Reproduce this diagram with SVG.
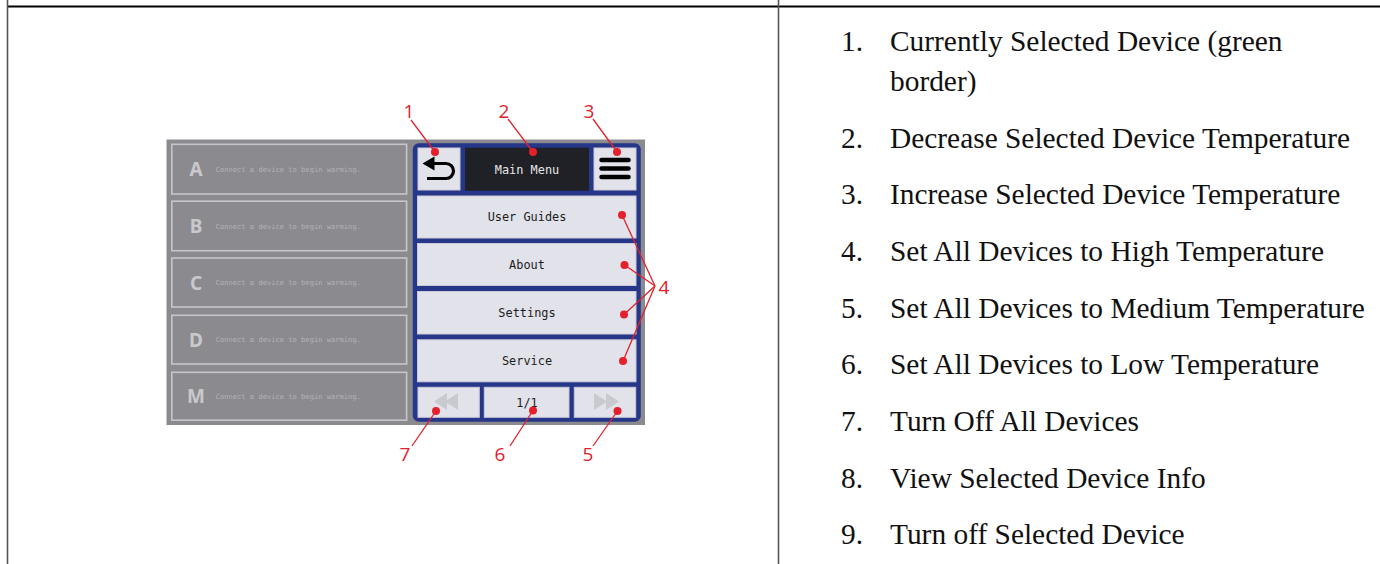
<svg xmlns="http://www.w3.org/2000/svg" width="1380" height="564" viewBox="0 0 1380 564">
<style>
.rule{stroke:#000;stroke-width:2.2}
.vrule{stroke:#555;stroke-width:1.6}
.dev{fill:none;stroke:#c6c6ca;stroke-width:1.6}
.letter{font-family:"Noto Sans","Liberation Sans",sans-serif;font-weight:bold;font-size:19px;fill:#c9c9cc;text-anchor:middle}
.hint{font-family:"DejaVu Sans Mono","Liberation Mono",monospace;font-size:7.1px;fill:#b4b4b8}
.btn{fill:#e1e2ea;stroke:#c9cad6;stroke-width:1}
.mono{font-family:"DejaVu Sans Mono","Liberation Mono",monospace;font-size:11.9px;fill:#1c1c1c;text-anchor:middle}
.lead{stroke:#e3202b;stroke-width:1.3;fill:none}
.dot{fill:#e3202b}
.num{font-family:"Open Sans","Noto Sans",sans-serif;font-size:19px;fill:#e3202b;text-anchor:middle}
.item{font-family:"Liberation Serif","Times New Roman",serif;font-size:29.4px;fill:#111}
.arrowbtn{fill:#c9cad0}
</style>

<g id="table">
  <line class="rule" x1="7" y1="6.5" x2="1380" y2="6.5"/>
  <line class="vrule" x1="7.5" y1="0" x2="7.5" y2="564"/>
  <line class="vrule" x1="778.5" y1="0" x2="778.5" y2="564"/>
</g>

<g id="device-panel">
  <rect x="166.5" y="139.5" width="478.5" height="285.5" fill="#8b8a8f"/>
  <g id="device-A">
    <rect class="dev" x="171.8" y="144.3" width="234.8" height="49.7"/>
    <text class="letter" x="196" y="176">A</text>
    <text class="hint" x="215.7" y="171.8">Connect a device to begin warming.</text>
  </g>
  <g id="device-B">
    <rect class="dev" x="171.8" y="201.2" width="234.8" height="49.5"/>
    <text class="letter" x="196" y="233">B</text>
    <text class="hint" x="215.7" y="228.6">Connect a device to begin warming.</text>
  </g>
  <g id="device-C">
    <rect class="dev" x="171.8" y="258" width="234.8" height="49"/>
    <text class="letter" x="196" y="289.5">C</text>
    <text class="hint" x="215.7" y="285.3">Connect a device to begin warming.</text>
  </g>
  <g id="device-D">
    <rect class="dev" x="171.8" y="315.3" width="234.8" height="48.7"/>
    <text class="letter" x="196" y="346.5">D</text>
    <text class="hint" x="215.7" y="342.3">Connect a device to begin warming.</text>
  </g>
  <g id="device-M">
    <rect class="dev" x="171.8" y="372.3" width="234.8" height="47.9"/>
    <text class="letter" x="196" y="403">M</text>
    <text class="hint" x="215.7" y="398.8">Connect a device to begin warming.</text>
  </g>
</g>

<g id="menu-panel">
  <rect x="412.8" y="143.3" width="228" height="278.5" rx="6" fill="#26378a"/>
  <g id="back-button">
    <rect class="btn" x="418" y="148" width="42" height="42"/>
    <path d="M431,163.5 H446 A7.5,7.5 0 0 1 446,178.5 H427" fill="none" stroke="#000" stroke-width="3.2"/>
    <polygon points="422.5,163.5 434.5,156.5 434.5,170.5" fill="#000"/>
  </g>
  <g id="title">
    <rect x="465" y="147.7" width="124" height="43" fill="#1f2127"/>
    <text class="mono" x="527" y="173.5" style="fill:#e6e6e6">Main Menu</text>
  </g>
  <g id="menu-button">
    <rect class="btn" x="594" y="148" width="42" height="42"/>
    <g stroke="#000" stroke-width="4.5" stroke-linecap="round">
      <line x1="601.5" y1="160" x2="628.5" y2="160"/>
      <line x1="601.5" y1="168.5" x2="628.5" y2="168.5"/>
      <line x1="601.5" y1="177" x2="628.5" y2="177"/>
    </g>
  </g>
  <g id="user-guides">
    <rect class="btn" x="417.5" y="196" width="218.5" height="42"/>
    <text class="mono" x="527" y="221.2">User Guides</text>
  </g>
  <g id="about">
    <rect class="btn" x="417.5" y="243.5" width="218.5" height="42"/>
    <text class="mono" x="527" y="268.8">About</text>
  </g>
  <g id="settings">
    <rect class="btn" x="417.5" y="291.5" width="218.5" height="42.5"/>
    <text class="mono" x="527" y="316.8">Settings</text>
  </g>
  <g id="service">
    <rect class="btn" x="417.5" y="339.8" width="218.5" height="42"/>
    <text class="mono" x="527" y="364.8">Service</text>
  </g>
  <g id="prev-page">
    <rect class="btn" x="418" y="387.3" width="61.3" height="30"/>
    <polygon class="arrowbtn" points="434,401.5 447,393 447,410"/>
    <polygon class="arrowbtn" points="445,401.5 458,393 458,410"/>
  </g>
  <g id="page-indicator">
    <rect class="btn" x="484.3" y="387.3" width="84.7" height="30"/>
    <text class="mono" x="527" y="406.5">1/1</text>
  </g>
  <g id="next-page">
    <rect class="btn" x="574.3" y="387.3" width="61.4" height="30"/>
    <polygon class="arrowbtn" points="607,401.5 594,393 594,410"/>
    <polygon class="arrowbtn" points="619,401.5 606,393 606,410"/>
  </g>
</g>

<g id="connectors">
  <line class="lead" x1="411" y1="120" x2="435" y2="152"/>
  <line class="lead" x1="508" y1="119" x2="533" y2="152"/>
  <line class="lead" x1="593" y1="119" x2="617" y2="152"/>
  <line class="lead" x1="622" y1="215" x2="655" y2="286"/>
  <line class="lead" x1="624.5" y1="265" x2="655" y2="286"/>
  <line class="lead" x1="624" y1="314.5" x2="655" y2="286"/>
  <line class="lead" x1="623" y1="361" x2="655" y2="286"/>
  <line class="lead" x1="436" y1="411" x2="412" y2="446"/>
  <line class="lead" x1="533" y1="410.5" x2="510" y2="446"/>
  <line class="lead" x1="617.5" y1="411" x2="593" y2="446"/>
  <circle class="dot" cx="435" cy="152" r="4"/>
  <circle class="dot" cx="533" cy="152" r="4"/>
  <circle class="dot" cx="617" cy="152" r="4"/>
  <circle class="dot" cx="622" cy="215" r="4"/>
  <circle class="dot" cx="624.5" cy="265" r="4"/>
  <circle class="dot" cx="624" cy="314.5" r="4"/>
  <circle class="dot" cx="623" cy="361" r="4"/>
  <circle class="dot" cx="436" cy="411" r="4"/>
  <circle class="dot" cx="533" cy="410.5" r="4"/>
  <circle class="dot" cx="617.5" cy="411" r="4"/>
</g>

<g id="callout-labels">
  <text class="num" x="409" y="118">1</text>
  <text class="num" x="504" y="118">2</text>
  <text class="num" x="589" y="118">3</text>
  <text class="num" x="664" y="294">4</text>
  <text class="num" x="588" y="461">5</text>
  <text class="num" x="500" y="461">6</text>
  <text class="num" x="405" y="461">7</text>
</g>

<g id="legend">
  <text class="item" x="841" y="51">1.</text>
  <text class="item" x="890" y="51">Currently Selected Device (green</text>
  <text class="item" x="890" y="91">border)</text>
  <text class="item" x="841" y="147.5">2.</text>
  <text class="item" x="890" y="147.5">Decrease Selected Device Temperature</text>
  <text class="item" x="841" y="204">3.</text>
  <text class="item" x="890" y="204">Increase Selected Device Temperature</text>
  <text class="item" x="841" y="261">4.</text>
  <text class="item" x="890" y="261">Set All Devices to High Temperature</text>
  <text class="item" x="841" y="317.5">5.</text>
  <text class="item" x="890" y="317.5">Set All Devices to Medium Temperature</text>
  <text class="item" x="841" y="374">6.</text>
  <text class="item" x="890" y="374">Set All Devices to Low Temperature</text>
  <text class="item" x="841" y="431">7.</text>
  <text class="item" x="890" y="431">Turn Off All Devices</text>
  <text class="item" x="841" y="487.5">8.</text>
  <text class="item" x="890" y="487.5">View Selected Device Info</text>
  <text class="item" x="841" y="544">9.</text>
  <text class="item" x="890" y="544">Turn off Selected Device</text>
</g>
</svg>
